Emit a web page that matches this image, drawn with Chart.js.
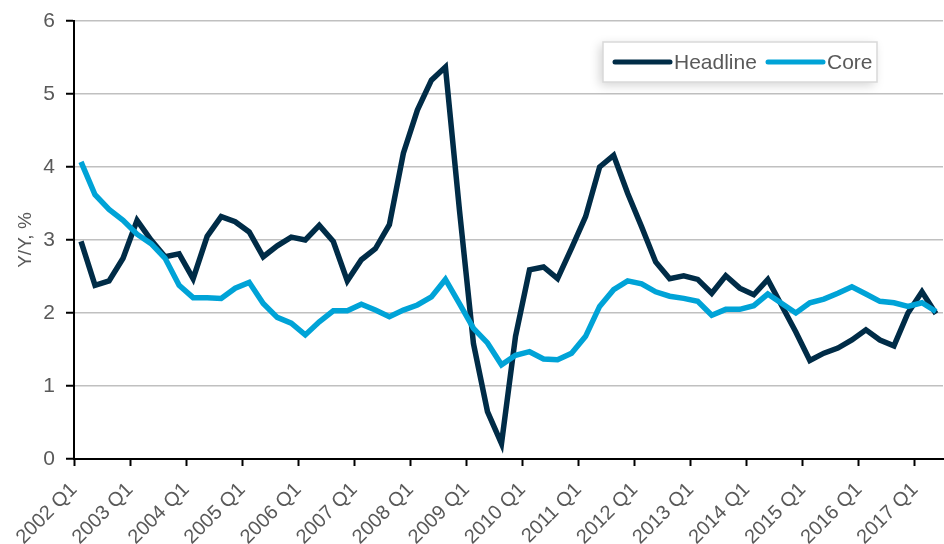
<!DOCTYPE html>
<html>
<head>
<meta charset="utf-8">
<script src="https://cdn.jsdelivr.net/npm/chart.js@4.4.1/dist/chart.umd.min.js"></script>
<style>
  html, body { margin: 0; padding: 0; background: #fff; }
  #wrap { width: 944px; height: 544px; }
</style>
</head>
<body>
<div id="wrap"><canvas id="myChart" width="944" height="544"></canvas></div>
<script>
'use strict';

// quarterly, 2002 Q1 .. 2017 Q2
let firstYear = 2002;
let tickLabels = [
  '2002 Q1', '2003 Q1', '2004 Q1', '2005 Q1', '2006 Q1', '2007 Q1', '2008 Q1', '2009 Q1',
  '2010 Q1', '2011 Q1', '2012 Q1', '2013 Q1', '2014 Q1', '2015 Q1', '2016 Q1', '2017 Q1'
];

let headline = [
  2.98, 2.38, 2.44, 2.75, 3.27, 3.00, 2.77, 2.81, 2.47, 3.05,
  3.32, 3.25, 3.11, 2.77, 2.92, 3.04, 3.00, 3.20, 2.98, 2.44,
  2.73, 2.88, 3.21, 4.19, 4.78, 5.19, 5.37, 3.41, 1.58, 0.65,
  0.21, 1.68, 2.59, 2.63, 2.47, 2.89, 3.32, 4.00, 4.16, 3.64,
  3.18, 2.70, 2.47, 2.51, 2.46, 2.27, 2.51, 2.34, 2.25, 2.46,
  2.10, 1.74, 1.35, 1.45, 1.52, 1.63, 1.77, 1.63, 1.55, 2.00,
  2.29, 1.99
];

let core = [
  4.07, 3.62, 3.42, 3.27, 3.08, 2.95, 2.75, 2.38, 2.21, 2.21,
  2.20, 2.34, 2.42, 2.13, 1.94, 1.86, 1.70, 1.88, 2.03, 2.03,
  2.12, 2.04, 1.95, 2.04, 2.11, 2.22, 2.46, 2.13, 1.79, 1.59,
  1.29, 1.42, 1.47, 1.37, 1.36, 1.45, 1.68, 2.09, 2.32, 2.44,
  2.40, 2.29, 2.23, 2.20, 2.16, 1.97, 2.05, 2.05, 2.10, 2.26,
  2.13, 2.00, 2.14, 2.19, 2.27, 2.36, 2.26, 2.16, 2.14, 2.09,
  2.14, 2.02
];

let seriesNames = ['Headline', 'Core'];
let seriesColors = ['#002c47', '#00a3d7'];
let yMin = 0;
let yMax = 6;

let quarters = [];
for (let i = 0; i < headline.length; i++) {
  quarters.push((firstYear + Math.floor(i / 4)) + ' Q' + (i % 4 + 1));
}

function toPoints(values) {
  // each quarter sits in the middle of its slot
  return values.map((v, i) => ({ x: i + 0.5, y: v }));
}

const textColor = '#595959';
const fontFamily = '"Liberation Sans", Arial, sans-serif';

const boxLegend = {
  id: 'boxLegend',
  afterDatasetsDraw(chart) {
    let ctx = chart.ctx;
    let area = chart.chartArea;
    let x0 = area.right - 340;
    let y0 = area.top + 21;
    let w = 274;
    let h = 40;

    ctx.save();
    ctx.shadowColor = 'rgba(0, 0, 0, 0.18)';
    ctx.shadowBlur = 10;
    ctx.shadowOffsetX = -3;
    ctx.shadowOffsetY = 3;
    ctx.fillStyle = '#ffffff';
    ctx.fillRect(x0, y0, w, h);
    ctx.restore();

    ctx.save();
    ctx.strokeStyle = '#d9d9d9';
    ctx.lineWidth = 1.5;
    ctx.strokeRect(x0, y0, w, h);

    let midY = y0 + h / 2;
    let starts = [x0 + 12, x0 + 165];
    ctx.font = '21px ' + fontFamily;
    ctx.textBaseline = 'middle';
    ctx.textAlign = 'left';
    for (let i = 0; i < seriesNames.length; i++) {
      ctx.strokeStyle = seriesColors[i];
      ctx.lineWidth = 5;
      ctx.lineCap = 'round';
      ctx.beginPath();
      ctx.moveTo(starts[i], midY);
      ctx.lineTo(starts[i] + 55, midY);
      ctx.stroke();
      ctx.fillStyle = textColor;
      ctx.fillText(seriesNames[i], starts[i] + 59, midY + 1);
    }
    ctx.restore();
  }
};

let ctx = document.getElementById('myChart').getContext('2d');
let myChart = new Chart(ctx, {
  type: 'line',
  data: {
    datasets: [{
      label: seriesNames[0],
      data: toPoints(headline),
      borderColor: seriesColors[0],
      borderWidth: 5.5,
      pointRadius: 0,
      tension: 0,
      order: 1
    }, {
      label: seriesNames[1],
      data: toPoints(core),
      borderColor: seriesColors[1],
      borderWidth: 5.5,
      pointRadius: 0,
      tension: 0,
      order: 0
    }]
  },
  options: {
    responsive: false,
    animation: false,
    devicePixelRatio: 1,
    layout: {
      padding: { top: 21, right: 1, left: 0, bottom: 0 }
    },
    plugins: {
      legend: { display: false },
      tooltip: { enabled: false }
    },
    scales: {
      x: {
        type: 'linear',
        min: 0,
        max: quarters.length,
        afterFit(scale) { scale.height = 85; },
        afterBuildTicks(scale) {
          scale.ticks = tickLabels.map((t, k) => ({ value: k * 4 }));
        },
        border: { color: '#000000', width: 2 },
        grid: {
          drawOnChartArea: false,
          drawTicks: true,
          tickLength: 7,
          tickColor: '#000000',
          tickWidth: 2
        },
        ticks: {
          autoSkip: false,
          maxRotation: 45,
          minRotation: 45,
          padding: 12,
          color: textColor,
          font: { family: fontFamily, size: 20 },
          callback: (v, idx) => tickLabels[idx]
        }
      },
      y: {
        min: yMin,
        max: yMax,
        afterFit(scale) {
          scale.width = 74;
          scale.paddingTop = 0;
          scale.paddingBottom = 0;
        },
        border: { color: '#000000', width: 2 },
        grid: {
          color: '#c0c0c0',
          lineWidth: 1.5,
          drawTicks: true,
          tickLength: 8,
          tickColor: '#000000',
          tickWidth: 2
        },
        ticks: {
          stepSize: 1,
          padding: 11,
          color: textColor,
          font: { family: fontFamily, size: 21 }
        },
        title: {
          display: true,
          text: 'Y/Y, %',
          color: textColor,
          padding: { top: 14, bottom: 0 },
          font: { family: fontFamily, size: 19 }
        }
      }
    }
  },
  plugins: [boxLegend]
});
</script>
</body>
</html>
